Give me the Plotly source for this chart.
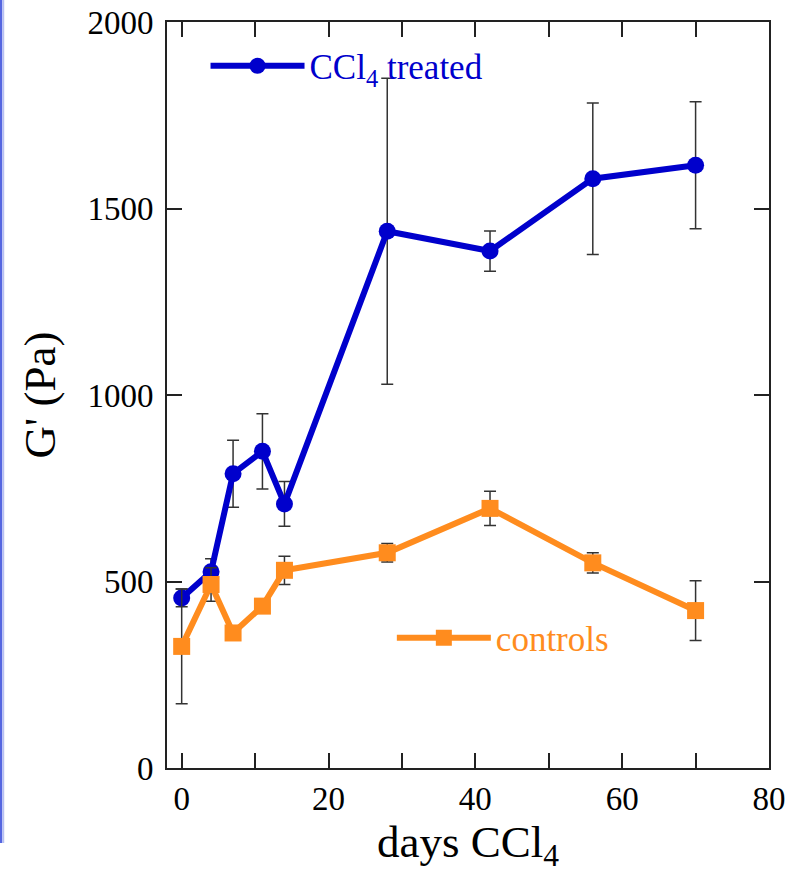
import plotly.graph_objects as go

days = [0, 4, 7, 11, 14, 28, 42, 56, 70]
ccl4_treated = [456, 526, 789, 849, 708, 1439, 1386, 1580, 1616]
ccl4_err = [24, 35, 90, 101, 60, 410, 54, 203, 170]
controls = [326, 492, 362, 434, 530, 577, 696, 550, 422]
controls_err = [154, 45, 15, 15, 38, 25, 46, 27, 80]

x_tickvals = [0, 20, 40, 60, 80]
y_tickvals = [0, 500, 1000, 1500, 2000]

BLUE = "#0000CC"
ORANGE = "#FF8C1E"
FONT = "Liberation Serif"

fig = go.Figure()
fig.add_trace(go.Scatter(
    x=days, y=ccl4_treated, mode="lines+markers", name="CCl<sub>4</sub> treated",
    line=dict(color=BLUE, width=6),
    marker=dict(symbol="circle", size=17, color=BLUE),
    error_y=dict(type="data", array=ccl4_err, color="#333333", thickness=1.5, width=6),
    legend="legend",
))
fig.add_trace(go.Scatter(
    x=days, y=controls, mode="lines+markers", name="controls",
    line=dict(color=ORANGE, width=6),
    marker=dict(symbol="square", size=17, color=ORANGE),
    error_y=dict(type="data", array=controls_err, color="#333333", thickness=1.5, width=6),
    legend="legend2",
))

axis_common = dict(
    showline=True, linecolor="#222222", linewidth=2, mirror="ticks",
    ticks="inside", ticklen=15, tickwidth=1.5, tickcolor="#222222",
    showgrid=False, zeroline=False, automargin=False,
    tickfont=dict(family=FONT, size=33, color="black"),
)

fig.update_xaxes(
    range=[-2, 80], tickvals=x_tickvals,
    minor=dict(dtick=10, ticks="inside", ticklen=15, tickwidth=1.5, tickcolor="#222222", showgrid=False),
    title=dict(text="days CCl<sub>4</sub>", font=dict(family=FONT, size=45, color="black"), standoff=6),
    ticklabelstandoff=0,
    **axis_common,
)
fig.update_yaxes(
    range=[0, 2000], tickvals=y_tickvals,
    title=dict(text="G' (Pa)", font=dict(family=FONT, size=45, color="black"), standoff=18),
    ticklabelstandoff=5,
    **axis_common,
)

# thin blue edge strip at the far left of the original slide
fig.add_shape(type="rect", xref="paper", yref="paper",
              x0=-0.2787, x1=-0.2737, y0=-0.1005, y1=1.03,
              fillcolor="#5566E0", line=dict(width=0), layer="below")
fig.add_shape(type="rect", xref="paper", yref="paper",
              x0=-0.2737, x1=-0.2704, y0=-0.1005, y1=1.03,
              fillcolor="#B8C0F2", line=dict(width=0), layer="below")

fig.update_layout(
    width=801, height=886,
    margin=dict(l=167, r=32, t=22, b=118, autoexpand=False),
    plot_bgcolor="white", paper_bgcolor="white",
    showlegend=True,
    legend=dict(x=0.064, y=0.941, xanchor="left", yanchor="middle",
                font=dict(family=FONT, size=35, color=BLUE),
                bgcolor="rgba(0,0,0,0)", itemwidth=94),
    legend2=dict(x=0.3735, y=0.1743, xanchor="left", yanchor="middle",
                 font=dict(family=FONT, size=35, color=ORANGE),
                 bgcolor="rgba(0,0,0,0)", itemwidth=94),
)

fig.write_html("out.html", config={"displayModeBar": False},
               post_script="document.body.style.margin='0';document.body.style.padding='0';")
